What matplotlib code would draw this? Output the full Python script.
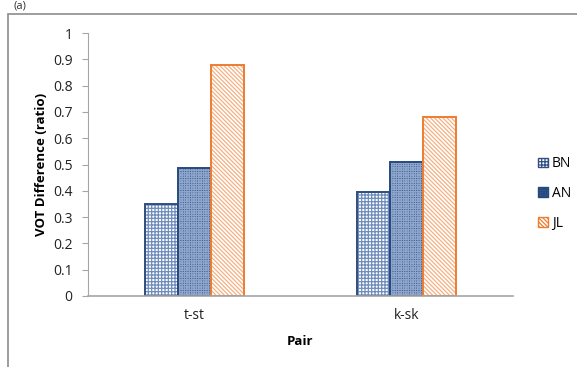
import numpy as np
import matplotlib
matplotlib.use('Agg')
import matplotlib.pyplot as plt
from matplotlib.patches import Rectangle, Patch

plt.rcParams['font.family'] = ['Open Sans', 'DejaVu Sans']
plt.rcParams['hatch.linewidth'] = 0.9

# data
pairs = ['t-st', 'k-sk']
groups = ['BN', 'AN', 'JL']
BN = [0.35, 0.395]
AN = [0.485, 0.51]
JL = [0.88, 0.68]
yticks = [0, 0.1, 0.2, 0.3, 0.4, 0.5, 0.6, 0.7, 0.8, 0.9, 1]

# face, hatch colour, hatch, outline
styles = {
    'BN': ('white', '#6F8CBA', '+++++', '#2F4F80'),
    'AN': ('#3E5E92', '#8FA6CC', '+++++++', '#274A7E'),
    'JL': ('white', '#F4B183', '\\\\\\\\\\\\\\\\', '#ED7D31'),
}

fig = plt.figure(figsize=(5.77, 3.67), dpi=100)
ax = fig.add_axes([0.1525, 0.1935, 0.7365, 0.7165])

# outer chart frame
fig.patches.append(Rectangle((8 / 577, -0.1), 1.2, 1 - 14 / 367 + 0.1,
                             transform=fig.transFigure, fill=False,
                             edgecolor='#8C8C8C', linewidth=1.2))
fig.text(14 / 577, 0.998, '(a)', fontsize=8, ha='left', va='top', color='#333333')

x = np.arange(len(pairs))
w = 0.155
handles = []
for i, (name, vals) in enumerate(zip(groups, [BN, AN, JL])):
    face, hc, hatch, edge = styles[name]
    ax.bar(x + (i - 1) * w, vals, w, facecolor=face, edgecolor=hc, hatch=hatch, linewidth=0)
    ax.bar(x + (i - 1) * w, vals, w, fill=False, edgecolor=edge, linewidth=1.4)
    handles.append(Patch(facecolor=face, edgecolor=edge, hatch=hatch, linewidth=1, label=name))

ax.set_xlim(-0.5, 1.5)
ax.set_ylim(0, 1)
ax.set_yticks(yticks)
ax.set_yticklabels([('%g' % v) for v in yticks], fontsize=10, color='#222222')
ax.set_xticks(x)
ax.set_xticklabels(pairs, fontsize=10, color='#222222')
ax.tick_params(axis='x', length=0, pad=9)
ax.tick_params(axis='y', length=4, color='#A6A6A6', pad=7)

for s in ['top', 'right']:
    ax.spines[s].set_visible(False)
ax.spines['left'].set_color('#A6A6A6')
ax.spines['bottom'].set_color('#A6A6A6')
ax.spines['bottom'].set_linewidth(1.2)

ax.set_ylabel('VOT Difference (ratio)', fontsize=9.5, fontweight='bold', labelpad=4)
ax.set_xlabel('Pair', fontsize=9.5, fontweight='bold', labelpad=8)

leg = ax.legend(handles=handles, loc='center left', bbox_to_anchor=(1.03, 0.39),
                frameon=False, fontsize=10, handlelength=0.7, handleheight=0.7,
                handletextpad=0.3, labelspacing=1.05)

fig.savefig('out.png', dpi=100)
